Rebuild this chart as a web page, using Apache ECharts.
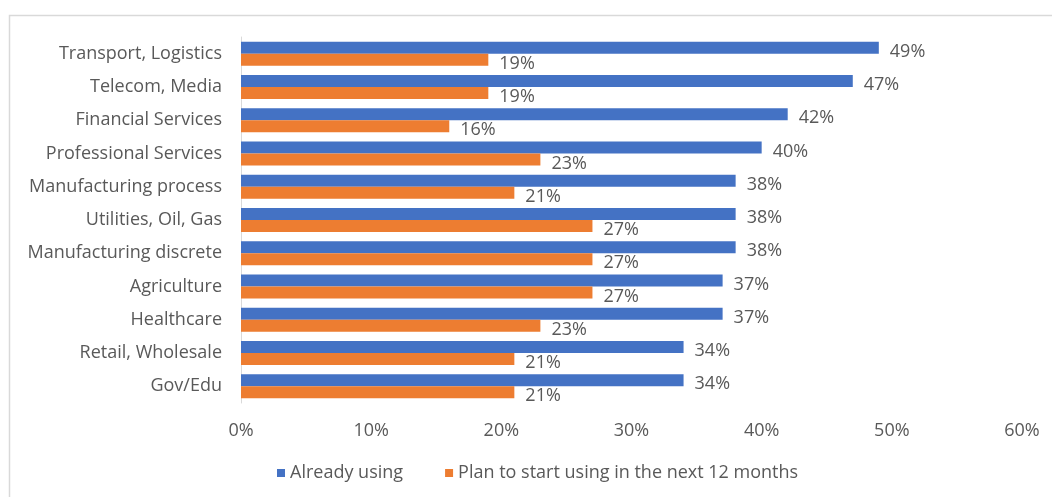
<!DOCTYPE html>
<html>
<head>
<meta charset="utf-8">
<script src="https://cdn.jsdelivr.net/npm/echarts@6/dist/echarts.min.js"></script>
<style>
  html, body { margin: 0; padding: 0; background: #ffffff; }
  #chart { width: 1052px; height: 497px; }
</style>
</head>
<body>
<div id="chart"></div>
<script>
// Industry adoption survey: share of respondents by sector
const categories = [
  'Transport, Logistics', 'Telecom, Media', 'Financial Services', 'Professional Services',
  'Manufacturing process', 'Utilities, Oil, Gas', 'Manufacturing discrete', 'Agriculture',
  'Healthcare', 'Retail, Wholesale', 'Gov/Edu'
];
const alreadyUsing = [49, 47, 42, 40, 38, 38, 38, 37, 37, 34, 34];
const planToStart = [19, 19, 16, 23, 21, 27, 27, 27, 23, 21, 21];
const seriesNames = ['Already using', 'Plan to start using in the next 12 months'];
const axisTicks = [0, 10, 20, 30, 40, 50, 60];

const FONT = '"Open Sans"';
const FONT_SIZE = 18;
const TEXT = '#595959';

const chart = echarts.init(document.getElementById('chart'), null, { renderer: 'canvas' });

const labelStyle = {
  show: true,
  position: 'right',
  distance: 11,
  offset: [0, 4],
  formatter: p => p.value + '%',
  color: TEXT,
  fontFamily: FONT,
  fontSize: FONT_SIZE
};

chart.setOption({
  animation: false,
  backgroundColor: '#ffffff',
  graphic: [{
    type: 'rect',
    shape: { x: 9.5, y: 15.5, width: 1100, height: 600 },
    style: { fill: 'none', stroke: '#d9d9d9', lineWidth: 1.5 },
    silent: true
  }],
  grid: { left: 241, right: 30, top: 37, bottom: 94, containLabel: false },
  legend: {
    data: seriesNames,
    left: 272,
    top: 459,
    icon: 'rect',
    itemWidth: 8,
    itemHeight: 8,
    itemGap: 42,
    textStyle: { color: TEXT, fontFamily: FONT, fontSize: FONT_SIZE }
  },
  xAxis: {
    type: 'value',
    min: axisTicks[0],
    max: axisTicks[axisTicks.length - 1],
    interval: axisTicks[1] - axisTicks[0],
    axisLine: { show: false },
    axisTick: { show: false },
    splitLine: { show: false },
    axisLabel: {
      formatter: v => v + '%',
      color: TEXT,
      fontFamily: FONT,
      fontSize: FONT_SIZE,
      margin: 19
    }
  },
  yAxis: {
    type: 'category',
    data: categories,
    inverse: true,
    axisLine: { show: true, lineStyle: { color: '#d9d9d9', width: 1 } },
    axisTick: { show: false },
    axisLabel: {
      color: TEXT,
      fontFamily: FONT,
      fontSize: FONT_SIZE,
      margin: 19
    }
  },
  series: [
    {
      name: seriesNames[0],
      type: 'bar',
      data: alreadyUsing,
      barWidth: 12,
      barGap: '0%',
      itemStyle: { color: '#4472C4' },
      label: labelStyle
    },
    {
      name: seriesNames[1],
      type: 'bar',
      data: planToStart,
      barWidth: 12,
      barGap: '0%',
      itemStyle: { color: '#ED7D31' },
      label: labelStyle
    }
  ]
});
</script>
</body>
</html>
